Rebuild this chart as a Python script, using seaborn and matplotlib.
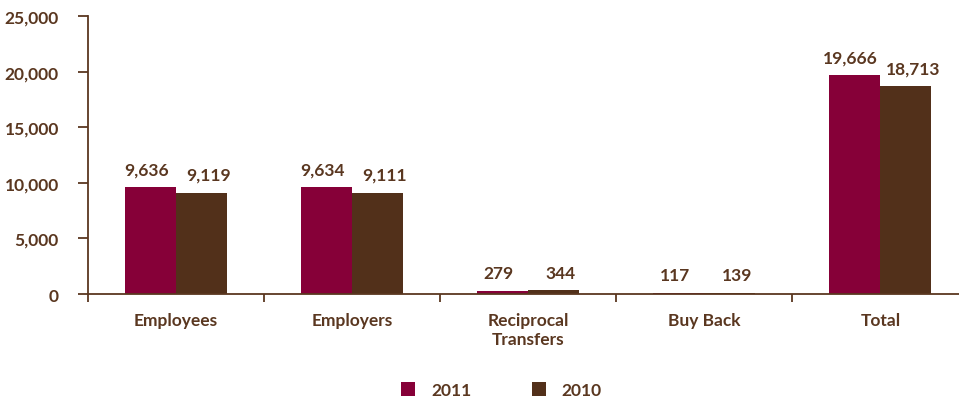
import matplotlib
matplotlib.use("Agg")
import matplotlib.pyplot as plt
import seaborn as sns
import pandas as pd

categories = ["Employees", "Employers", "Reciprocal\nTransfers", "Buy Back", "Total"]
values_2011 = [9636, 9634, 279, 117, 19666]
values_2010 = [9119, 9111, 344, 139, 18713]
years = ["2011", "2010"]

df = pd.DataFrame({
    "category": categories * 2,
    "year": [years[0]] * len(categories) + [years[1]] * len(categories),
    "value": values_2011 + values_2010,
})

text_color = "#5a3720"
palette = {"2011": "#860038", "2010": "#52301a"}
fs = 12.5

sns.set_theme(style="white")
plt.rcParams["font.family"] = ["Lato", "DejaVu Sans"]
plt.rcParams["font.weight"] = "bold"

fig = plt.figure(figsize=(9.59, 4.02), dpi=100)
ax = fig.add_axes([0.0918, 0.266, 0.918, 0.692])

sns.barplot(data=df, x="category", y="value", hue="year", palette=palette,
            width=0.58, saturation=1, linewidth=0, ax=ax, legend=True)

ax.set_ylim(0, 25000)
ax.set_xlim(-0.5, 4.5)
ax.set_yticks(range(0, 25001, 5000))
ax.set_yticklabels([f"{v:,}" for v in range(0, 25001, 5000)])
ax.set_xlabel("")
ax.set_ylabel("")

for side in ["top", "right"]:
    ax.spines[side].set_visible(False)
for side in ["left", "bottom"]:
    ax.spines[side].set_color(text_color)
    ax.spines[side].set_linewidth(1.3)

# category labels sit between boundary ticks
ax.set_xticks(range(len(categories)))
ax.set_xticklabels(categories, fontsize=fs, fontweight="bold", color=text_color,
                   linespacing=1.2)
ax.tick_params(axis="x", length=0, pad=13)
ax.set_xticks([i - 0.5 for i in range(len(categories))], minor=True)
ax.tick_params(axis="x", which="minor", length=6, width=1.3, color=text_color,
               direction="out", bottom=True)
ax.tick_params(axis="y", length=7, width=1.3, color=text_color, direction="out",
               left=True, labelsize=fs, labelcolor=text_color, pad=14)
for lbl in ax.get_yticklabels():
    lbl.set_fontweight("bold")

# value labels above each bar, nudged apart so neighbouring labels don't touch
x_nudge = [-3, 5]
for container, dx in zip(ax.containers, x_nudge):
    for bar in container:
        h = bar.get_height()
        ax.annotate(f"{int(h):,}", (bar.get_x() + bar.get_width() / 2, h),
                    xytext=(dx, 7), textcoords="offset points",
                    ha="center", va="bottom", fontsize=fs, fontweight="bold",
                    color=text_color)

handles, labs = ax.get_legend_handles_labels()
ax.legend(handles, labs, loc="center", bbox_to_anchor=(0.523, 0.027),
          bbox_transform=fig.transFigure, ncol=2,
          frameon=False, handlelength=0.8, handleheight=0.8, columnspacing=3.5,
          handletextpad=0.9, prop={"weight": "bold", "size": fs},
          labelcolor=text_color)

fig.savefig("out.png", dpi=100)
